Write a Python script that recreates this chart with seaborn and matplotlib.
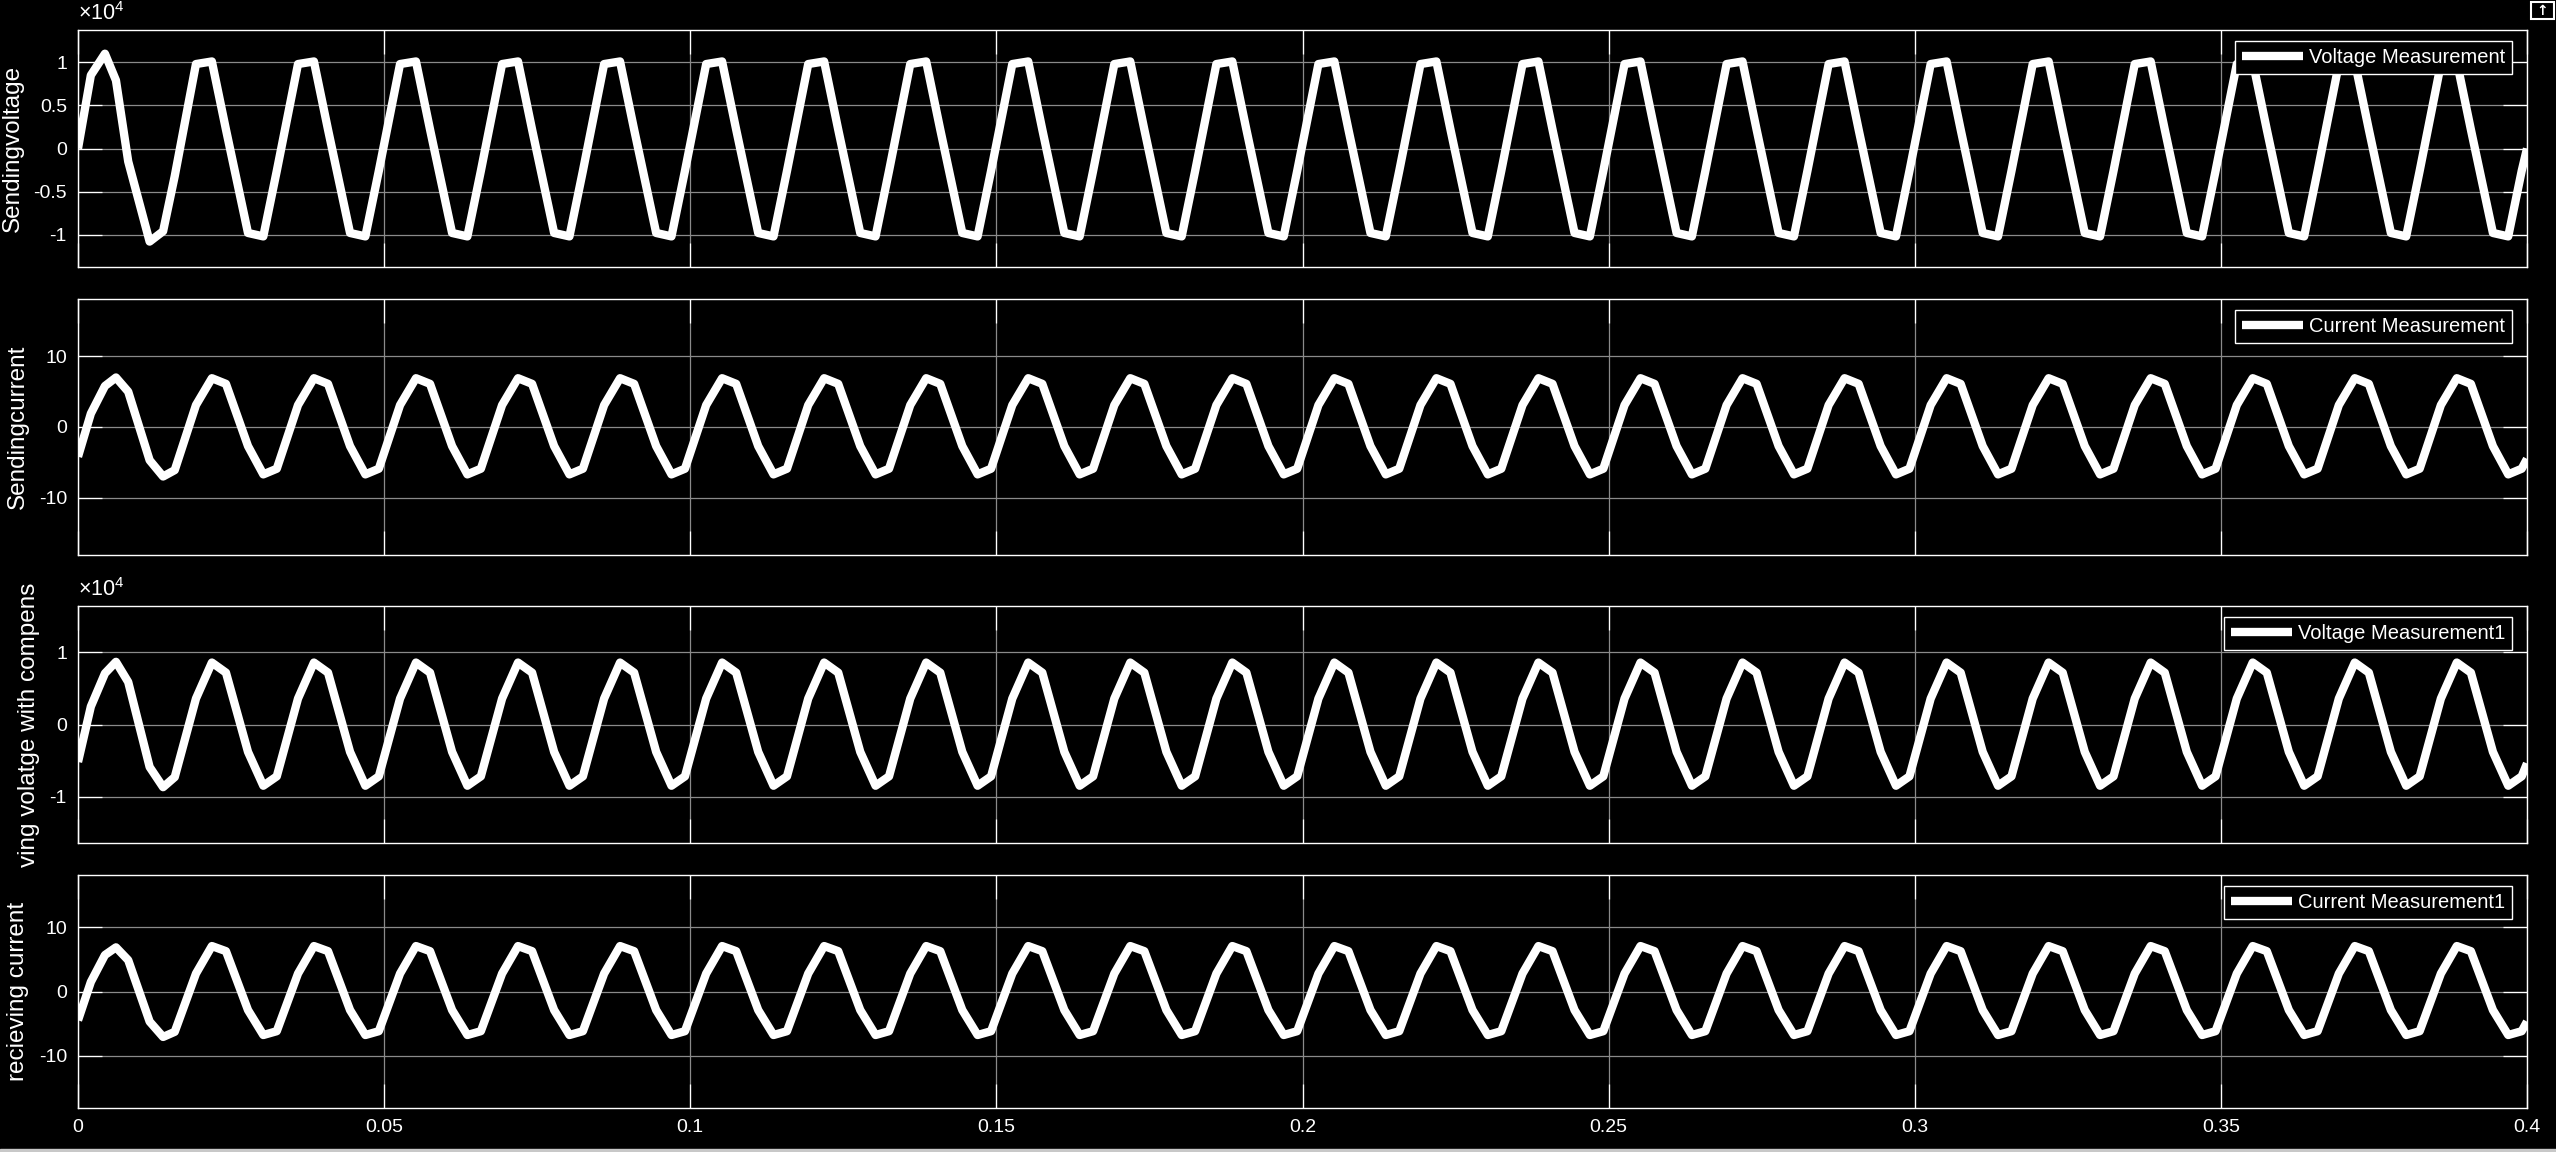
"""
Scope view: sending / receiving voltage and current (4 stacked panels)
Output: out.png
"""
import matplotlib
matplotlib.use('Agg')
import matplotlib.pyplot as plt
from matplotlib.patches import Rectangle
import seaborn as sns
import pandas as pd

sns.set_style('dark')
plt.rcParams.update({
    'font.family': ['Liberation Sans', 'DejaVu Sans'],
    'axes.unicode_minus': False,
    'mathtext.fontset': 'custom',
    'mathtext.rm': 'Liberation Sans',
    'mathtext.it': 'Liberation Sans:italic',
})

# --- data (one 60 Hz cycle repeats; first cycle is the start-up) ---
period = 1 / 60
n_cycles = 24
t_end = 0.4
t_first = [0.0, 0.0021, 0.0044, 0.0062, 0.0082, 0.0117, 0.0139, 0.0158]
phase = [0.0026, 0.0052, 0.0075, 0.0111, 0.0136, 0.0158]

v_send_first = [0.0, 0.85, 1.10, 0.79, -0.15, -1.08, -0.96, -0.32]   # x1e4
v_send_cycle = [0.98, 1.01, 0.22, -0.98, -1.02, -0.26]
v_send_end = 0.0

i_send_first = [-4.2, 1.9, 5.8, 7.0, 5.0, -4.7, -7.0, -6.1]
i_send_cycle = [3.1, 6.9, 6.1, -2.7, -6.7, -5.9]
i_send_end = -4.5

v_recv_first = [-0.52, 0.25, 0.71, 0.87, 0.59, -0.59, -0.87, -0.73]  # x1e4
v_recv_cycle = [0.36, 0.86, 0.72, -0.38, -0.85, -0.72]
v_recv_end = -0.54

i_recv_first = [-4.5, 1.5, 5.7, 6.9, 4.9, -4.7, -7.1, -6.3]
i_recv_cycle = [2.8, 7.1, 6.3, -2.9, -6.8, -6.2]
i_recv_end = -4.7

x_ticks = [0, 0.05, 0.1, 0.15, 0.2, 0.25, 0.3, 0.35, 0.4]
x_ticklabels = ['0', '0.05', '0.1', '0.15', '0.2', '0.25', '0.3', '0.35', '0.4']


def build(first, cycle, end):
    t = list(t_first) + [k * period + p for k in range(1, n_cycles) for p in phase] + [t_end]
    v = list(first) + list(cycle) * (n_cycles - 1) + [end]
    return pd.DataFrame({'t': t, 'v': v})


panels = [
    # data, legend, ylabel, ylim, yticks, ticklabels, exponent, axes box [top px, bottom px]
    (build(v_send_first, v_send_cycle, v_send_end), 'Voltage Measurement', 'Sendingvoltage',
     1.375, [-1, -0.5, 0, 0.5, 1], ['-1', '-0.5', '0', '0.5', '1'], True, (30, 267)),
    (build(i_send_first, i_send_cycle, i_send_end), 'Current Measurement', 'Sendingcurrent',
     18.1, [-10, 0, 10], ['-10', '0', '10'], False, (299, 555)),
    (build(v_recv_first, v_recv_cycle, v_recv_end), 'Voltage Measurement1', 'ving volatge with compens',
     1.645, [-1, 0, 1], ['-1', '0', '1'], True, (606, 843)),
    (build(i_recv_first, i_recv_cycle, i_recv_end), 'Current Measurement1', 'recieving current',
     18.2, [-10, 0, 10], ['-10', '0', '10'], False, (875, 1108)),
]

W, H = 2556, 1152
fig = plt.figure(figsize=(W / 100, H / 100), dpi=100, facecolor='black')
left_px, right_px = 78, 2527

for i, (df, leg, ylab, ylim, yt, ytl, expo, (top, bot)) in enumerate(panels):
    ax = fig.add_axes([left_px / W, 1 - bot / H, (right_px - left_px) / W, (bot - top) / H])
    ax.set_facecolor('black')
    sns.lineplot(data=df, x='t', y='v', ax=ax, color='white', lw=6, label=leg,
                 solid_joinstyle='round', solid_capstyle='butt', estimator=None)
    ax.set_xlim(0, t_end)
    ax.set_ylim(-ylim, ylim)
    ax.set_xticks(x_ticks)
    ax.set_yticks(yt)
    ax.set_yticklabels(ytl)
    if i == 3:
        ax.set_xticklabels(x_ticklabels)
    else:
        ax.set_xticklabels([])
    ax.set_xlabel('')
    ax.set_ylabel(ylab, color='white', fontsize=17.5, labelpad=7)
    ax.grid(True, color='#8a8a8a', lw=0.9)
    ax.tick_params(direction='in', length=17.5, width=0.9, color='white', labelcolor='white',
                   labelsize=14, pad=8, top=True, right=True, bottom=True, left=True)
    for s in ax.spines.values():
        s.set_color('white')
        s.set_linewidth(1.0)
        s.set_visible(True)
    if expo:
        ax.text(0.0, 1.02, '×10$^{4}$', transform=ax.transAxes, color='white',
                fontsize=15.5, ha='left', va='bottom')
    lg = ax.legend(loc='upper right', bbox_to_anchor=(1 - 15 / 2449, 1 - 11 / (bot - top)),
                   borderaxespad=0, fontsize=14.5, frameon=True, fancybox=False,
                   facecolor='black', edgecolor='white', framealpha=1,
                   handlelength=3.0, handletextpad=0.3, borderpad=0.35)
    lg.get_frame().set_linewidth(1.0)
    for txt in lg.get_texts():
        txt.set_color('white')

# bottom strip and small corner icon of the scope window
fig.patches.append(Rectangle((0, 0), 1, 3 / H, transform=fig.transFigure,
                             color='#c8c8c8', zorder=5))
fig.patches.append(Rectangle((2531 / W, 1 - 19 / H), 23 / W, 17 / H, transform=fig.transFigure,
                             fill=False, edgecolor='white', lw=1.5, zorder=5))
fig.text(2542.5 / W, 1 - 11 / H, '↑', color='white', fontsize=10, fontweight='bold',
         ha='center', va='center', family='DejaVu Sans')

fig.savefig('out.png', dpi=100, facecolor='black')
plt.close(fig)
